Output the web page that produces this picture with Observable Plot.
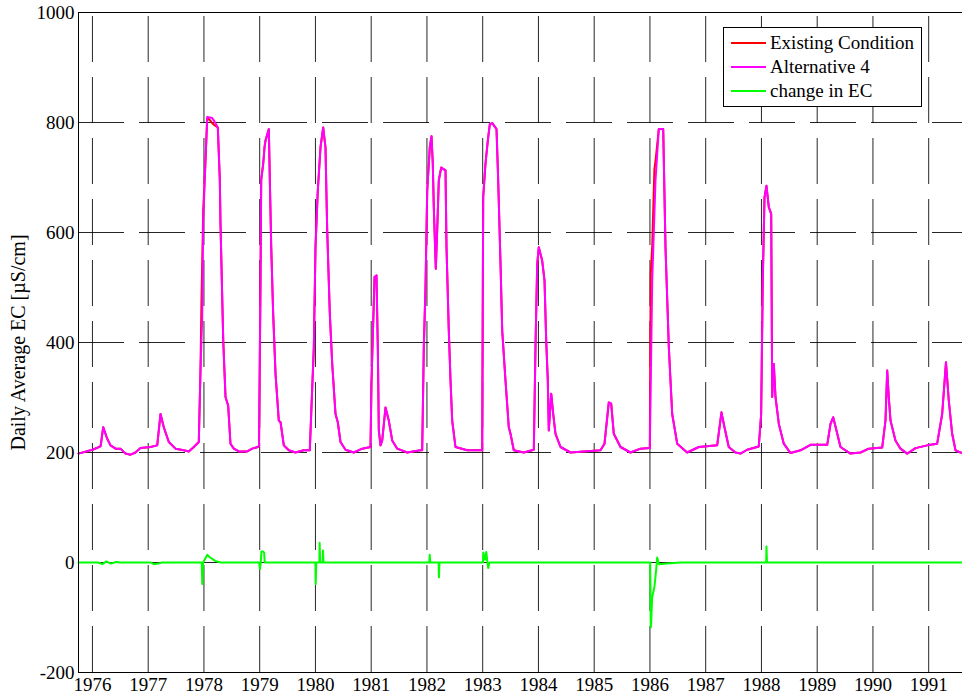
<!DOCTYPE html>
<html>
<head>
<meta charset="utf-8">
<script src="https://cdn.jsdelivr.net/npm/d3@7"></script>
<script src="https://cdn.jsdelivr.net/npm/@observablehq/plot@0.6"></script>
<style>
html, body { margin: 0; padding: 0; overflow: hidden; background: #fff; }
#wrap { position: relative; width: 980px; height: 700px; }
#legend { position: absolute; left: 723px; top: 27px; width: 197px; height: 78px; background: #fff; border: 1px solid #000;
  font-family: "Liberation Serif", "Times New Roman", serif; font-size: 19px; color: #000; }
#legend .row { position: absolute; left: 0; height: 24px; line-height: 24px; display: flex; align-items: center; white-space: nowrap; }
#legend .swatch { display: inline-block; width: 35px; height: 2px; margin-left: 7px; margin-right: 4px; }
</style>
</head>
<body>
<div id="wrap"></div>
<script>
// ---- data ----
const yearTicks = [1976, 1977, 1978, 1979, 1980, 1981, 1982, 1983, 1984, 1985, 1986, 1987, 1988, 1989, 1990, 1991];
const ecTicks = [-200, 0, 200, 400, 600, 800, 1000];
const seriesNames = ["Existing Condition", "Alternative 4", "change in EC"];
const seriesColors = ["#ff0000", "#ff00ff", "#00ff00"];
const yLabel = "Daily Average EC [\u00b5S/cm]";
const xStart = 1975.75, xEnd = 1991.75;

// Alternative 4 daily average EC, [decimal year, EC]
const alternative4 = [
  [1975.750,198],[1976.001,205],[1976.145,211],[1976.157,219],[1976.193,246],[1976.265,225],[1976.324,213],
  [1976.414,207],[1976.503,207],[1976.593,198],[1976.683,196],[1976.772,200],[1976.862,208],[1977.041,210],
  [1977.162,213],[1977.221,270],[1977.280,246],[1977.370,219],[1977.490,207],[1977.639,204],[1977.728,202],
  [1977.818,210],[1977.908,219],[1977.938,349],[1977.969,446],[1977.987,622],[1978.028,731],[1978.059,810],
  [1978.148,808],[1978.177,804],[1978.249,791],[1978.285,695],[1978.297,616],[1978.328,482],[1978.346,404],
  [1978.387,301],[1978.435,285],[1978.476,216],[1978.536,207],[1978.625,202],[1978.776,202],[1978.866,207],
  [1978.966,210],[1978.988,212],[1979.015,513],[1979.027,695],[1979.063,725],[1979.087,755],[1979.104,767],
  [1979.164,788],[1979.182,695],[1979.207,573],[1979.242,452],[1979.284,343],[1979.343,258],[1979.374,255],
  [1979.433,213],[1979.522,204],[1979.642,200],[1979.791,204],[1979.899,204],[1979.924,270],[1979.971,391],
  [1980.001,573],[1980.042,676],[1980.091,755],[1980.139,791],[1980.180,755],[1980.211,604],[1980.258,452],
  [1980.301,361],[1980.360,270],[1980.401,255],[1980.450,219],[1980.539,205],[1980.688,200],[1980.839,207],
  [1980.988,210],[1981.006,331],[1981.060,519],[1981.095,522],[1981.119,391],[1981.137,240],[1981.167,213],
  [1981.198,222],[1981.257,282],[1981.316,258],[1981.377,222],[1981.467,207],[1981.646,200],[1981.884,204],
  [1981.915,204],[1981.944,391],[1981.974,500],[1982.005,676],[1982.051,755],[1982.082,775],[1982.105,725],
  [1982.123,646],[1982.159,534],[1982.184,604],[1982.213,695],[1982.256,718],[1982.333,713],[1982.351,573],
  [1982.392,422],[1982.423,331],[1982.453,258],[1982.512,210],[1982.722,204],[1982.991,204],[1983.009,664],
  [1983.050,725],[1983.092,767],[1983.128,797],[1983.171,799],[1983.248,788],[1983.278,695],[1983.320,543],
  [1983.350,422],[1983.409,331],[1983.468,246],[1983.499,234],[1983.558,204],[1983.737,200],[1983.917,205],
  [1983.947,391],[1983.978,543],[1984.006,573],[1984.067,549],[1984.109,513],[1984.139,404],[1984.168,331],
  [1984.186,240],[1984.229,307],[1984.265,270],[1984.306,234],[1984.396,210],[1984.575,200],[1985.113,204],
  [1985.185,216],[1985.262,291],[1985.305,289],[1985.352,234],[1985.472,210],[1985.651,200],[1985.831,207],
  [1985.998,208],[1986.041,513],[1986.100,695],[1986.159,788],[1986.238,788],[1986.279,573],[1986.339,391],
  [1986.399,270],[1986.489,216],[1986.668,200],[1986.876,210],[1987.206,213],[1987.283,273],[1987.337,246],
  [1987.414,210],[1987.534,200],[1987.624,198],[1987.744,205],[1987.952,211],[1987.995,270],[1988.024,513],
  [1988.055,664],[1988.090,685],[1988.132,646],[1988.175,634],[1988.193,301],[1988.222,361],[1988.252,301],
  [1988.312,252],[1988.401,216],[1988.521,199],[1988.701,204],[1988.880,214],[1989.180,214],[1989.239,252],
  [1989.287,264],[1989.346,240],[1989.418,210],[1989.597,198],[1989.777,200],[1989.926,207],[1990.166,209],
  [1990.225,258],[1990.256,349],[1990.284,301],[1990.315,258],[1990.404,222],[1990.494,207],[1990.614,198],
  [1990.763,208],[1990.973,213],[1991.152,216],[1991.242,270],[1991.310,364],[1991.360,295],[1991.421,234],
  [1991.481,204],[1991.570,200],[1991.750,198]
];

// Existing condition: where it differs visibly from Alternative 4, [decimal year, EC]
const existingDiffers = [
  [[1977.938,349],[1977.955,470],[1977.987,640]],
  [[1978.059,808],[1978.110,804],[1978.148,799],[1978.177,796],[1978.249,791]],
  [[1985.998,208],[1986.008,420],[1986.015,525],[1986.041,576],[1986.080,715],[1986.100,730],[1986.159,788]]
];

// change in EC (Alternative 4 minus Existing), [decimal year, EC]
const changeEC = [
  [1975.750,0],[1976.100,0],[1976.180,-3],[1976.250,2],[1976.330,-2],[1976.420,1],[1976.500,0],
  [1977.050,0],[1977.100,-3],[1977.180,-2],[1977.250,0],
  [1977.960,0],[1977.970,-39],[1977.985,0],[1978.060,14],[1978.100,10],[1978.200,3],[1978.300,0],
  [1978.990,0],[1979.005,-12],[1979.020,0],[1979.030,20],[1979.060,20],[1979.080,18],[1979.090,0],
  [1980.000,0],[1980.005,-39],[1980.015,0],[1980.070,0],[1980.075,36],[1980.085,0],[1980.130,0],[1980.135,22],[1980.145,0],
  [1982.040,0],[1982.050,14],[1982.060,0],[1982.210,0],[1982.215,-27],[1982.225,0],
  [1983.005,0],[1983.010,18],[1983.040,5],[1983.065,19],[1983.085,0],[1983.100,-10],[1983.120,0],
  [1986.005,0],[1986.015,-118],[1986.022,-110],[1986.040,-63],[1986.080,-45],[1986.110,-15],[1986.130,9],
  [1986.160,-3],[1986.300,-2],[1986.550,0],
  [1988.085,0],[1988.090,29],[1988.100,0],
  [1991.750,0]
];

// existing = alternative 4 outside the differing windows, replaced by the listed points inside them
const existing = alternative4
  .filter(p => !existingDiffers.some(seg => p[0] >= seg[0][0] && p[0] <= seg[seg.length - 1][0]))
  .concat(existingDiffers.flat())
  .sort((a, b) => a[0] - b[0]);

const font = '"Liberation Serif", "Times New Roman", serif';
const gridDash = "46,15";
const chart = Plot.plot({
  width: 980,
  height: 700,
  marginTop: 12,
  marginBottom: 28,
  marginLeft: 78,
  marginRight: 10,
  style: { fontFamily: font, fontSize: "19px", background: "#fff", color: "#000" },
  x: { domain: [xStart, xEnd] },
  y: { domain: [ecTicks[0], ecTicks[ecTicks.length - 1]] },
  marks: [
    Plot.ruleY(ecTicks.slice(1, -1), { x1: () => xStart, x2: () => xEnd, stroke: "#000", strokeOpacity: 0.85, strokeWidth: 1, strokeDasharray: gridDash }),
    Plot.ruleX(yearTicks, { y1: () => ecTicks[0], y2: () => ecTicks[ecTicks.length - 1], stroke: "#000", strokeOpacity: 0.85, strokeWidth: 1, strokeDasharray: gridDash }),
    Plot.line(existing, { x: d => d[0], y: d => d[1], stroke: seriesColors[0], strokeWidth: 2 }),
    Plot.line(alternative4, { x: d => d[0], y: d => d[1], stroke: seriesColors[1], strokeWidth: 2 }),
    Plot.line(changeEC, { x: d => d[0], y: d => d[1], stroke: seriesColors[2], strokeWidth: 2 }),
    Plot.frame({ stroke: "#000", strokeWidth: 1 }),
    Plot.axisX({ ticks: yearTicks, tickFormat: d => String(d), tickSize: 0, tickPadding: 5, label: null, fontSize: 19, fontFamily: font }),
    Plot.axisY({ ticks: ecTicks, tickFormat: d => String(d), tickSize: 0, tickPadding: 4, label: null, fontSize: 19, fontFamily: font }),
    Plot.text([yLabel], { frameAnchor: "left", dx: -60, rotate: -90, textAnchor: "middle", text: d => d, fontSize: 20, fontFamily: font, fill: "#000" })
  ]
});

const wrap = document.getElementById("wrap");
wrap.appendChild(chart);

// legend
const legend = document.createElement("div");
legend.id = "legend";
seriesNames.forEach((name, i) => {
  const row = document.createElement("div");
  row.className = "row";
  row.style.top = (3 + i * 24) + "px";
  const sw = document.createElement("span");
  sw.className = "swatch";
  sw.style.background = seriesColors[i];
  const tx = document.createElement("span");
  tx.textContent = name;
  row.appendChild(sw);
  row.appendChild(tx);
  legend.appendChild(row);
});
wrap.appendChild(legend);
</script>
</body>
</html>
